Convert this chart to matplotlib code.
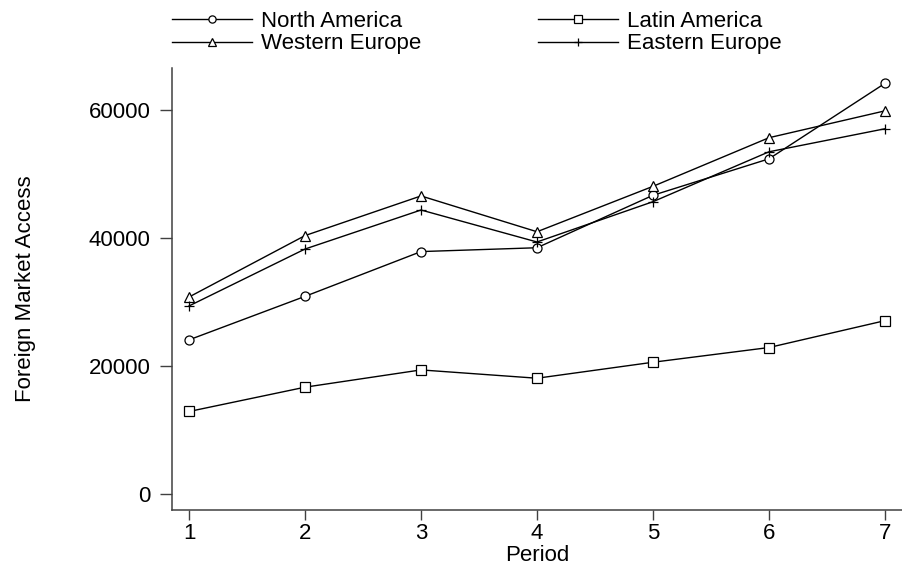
import numpy as np
import matplotlib
matplotlib.use('Agg')
import matplotlib.pyplot as plt

plt.rcParams['font.family'] = ['Liberation Sans', 'DejaVu Sans']

periods = [1, 2, 3, 4, 5, 6, 7]
north_america = [24100, 30900, 37900, 38500, 46700, 52400, 64200]
latin_america = [12900, 16700, 19400, 18100, 20600, 22900, 27100]
western_europe = [30800, 40400, 46600, 41000, 48100, 55700, 59900]
eastern_europe = [29400, 38300, 44400, 39400, 45700, 53500, 57100]
yticks = [0, 20000, 40000, 60000]

fig = plt.figure(figsize=(9.02, 5.74), dpi=100)
ax = fig.add_axes([172 / 902, 1 - 510 / 574, 1 - 172 / 902, (510 - 68) / 574])

style = dict(color='black', lw=1, mfc='white', mec='black', mew=0.9)
l1, = ax.plot(periods, north_america, marker='o', ms=6.5, label='North America', **style)
l2, = ax.plot(periods, latin_america, marker='s', ms=6.5, label='Latin America', **style)
l3, = ax.plot(periods, western_europe, marker='^', ms=7, label='Western Europe', **style)
l4, = ax.plot(periods, eastern_europe, marker='+', ms=7, label='Eastern Europe', **style)

ax.set_xlim(0.853, 7.147)
ax.set_ylim(-2500, 66600)
ax.set_xticks(periods)
ax.set_yticks(yticks)
for s in ['top', 'right']:
    ax.spines[s].set_visible(False)
for s in ['left', 'bottom']:
    ax.spines[s].set_color('#404040')
    ax.spines[s].set_linewidth(1.1)
ax.tick_params(direction='out', width=1, color='#404040', labelsize=16)
ax.tick_params(axis='y', length=8.5, pad=7)
ax.tick_params(axis='x', length=7.2, pad=2)
ax.set_xlabel('Period', fontsize=16, labelpad=1)
ax.set_ylabel('Foreign Market Access', fontsize=16, labelpad=38)

leg_kw = dict(loc='upper left', frameon=False, fontsize=16, handlelength=3.6,
              handletextpad=0.4, labelspacing=0.06, borderpad=0, borderaxespad=0,
              markerscale=0.8)
leg1 = fig.legend([l1, l3], ['North America', 'Western Europe'],
                  bbox_to_anchor=(172 / 902, 1 - 11 / 574), **leg_kw)
leg2 = fig.legend([l2, l4], ['Latin America', 'Eastern Europe'],
                  bbox_to_anchor=(538 / 902, 1 - 11 / 574), **leg_kw)

fig.savefig('out.png', dpi=100)
